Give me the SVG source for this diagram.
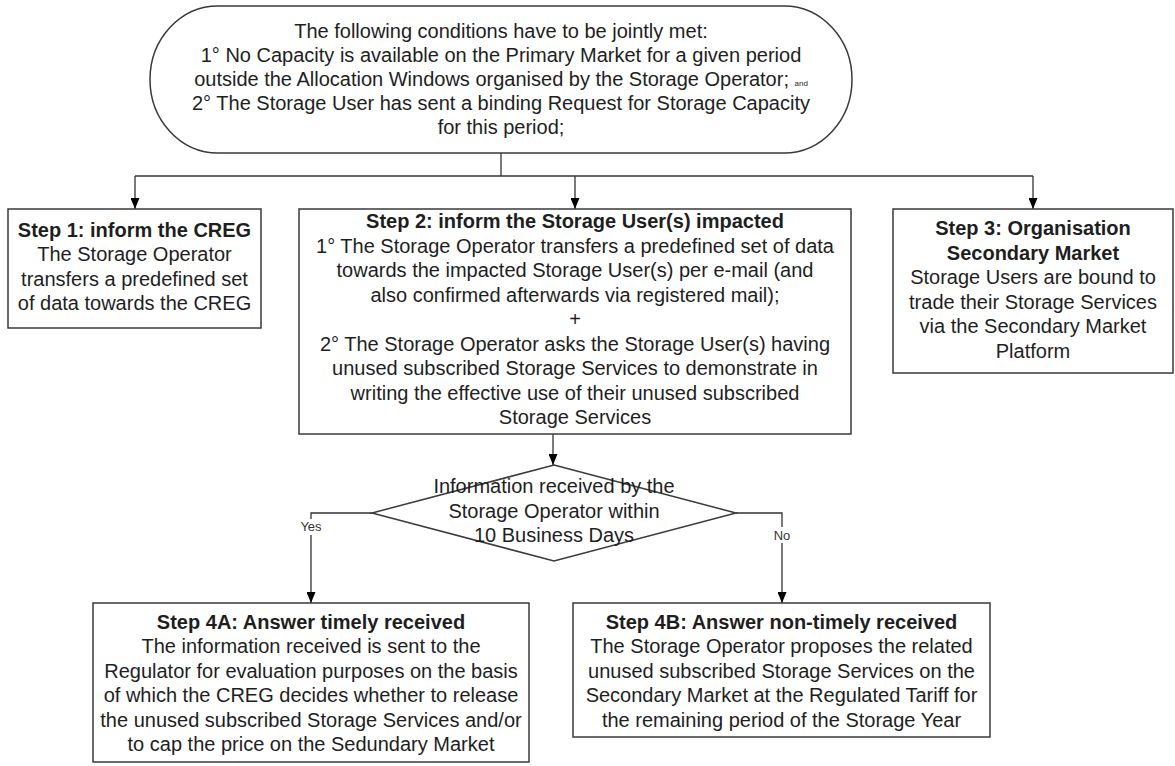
<svg xmlns="http://www.w3.org/2000/svg" width="1175" height="766" viewBox="0 0 1175 766">
<style>
.box{fill:#fff;stroke:#3a3a3a;stroke-width:1.5}
.ln{fill:none;stroke:#333;stroke-width:1.3}
text{font-family:"Liberation Sans",Arial,sans-serif;font-size:20px;fill:#1e1e1e;text-anchor:middle}
.b{font-weight:bold}
.lbl{font-size:13px;fill:#333}
.sm{font-size:8px}
</style>
<defs>
<marker id="ah" viewBox="0 0 11 9" refX="11" refY="4.5" markerWidth="11" markerHeight="9" orient="auto" markerUnits="userSpaceOnUse">
<path d="M0,0 L11,4.5 L0,9 z" fill="#000"/>
</marker>
</defs>
<rect width="1175" height="766" fill="#fff"/>
<g id="connectors">
<path class="ln" d="M501,153 V176"/>
<path class="ln" d="M135,176 H1033"/>
<path class="ln" d="M135,176 V209" marker-end="url(#ah)"/>
<path class="ln" d="M575,176 V209" marker-end="url(#ah)"/>
<path class="ln" d="M1033,176 V209" marker-end="url(#ah)"/>
<path class="ln" d="M575,434 V432 H553 V465" marker-end="url(#ah)"/>
<path class="ln" d="M372,513 H311 V603" marker-end="url(#ah)"/>
<path class="ln" d="M736,513 H782 V603" marker-end="url(#ah)"/>
<rect x="298" y="519" width="26" height="16" fill="#fff"/>
<text class="lbl" x="311" y="531">Yes</text>
<rect x="771" y="527" width="22" height="16" fill="#fff"/>
<text class="lbl" x="782" y="540">No</text>
</g>
<g id="start">
<path class="box" d="M218,6 H784 A68,73.5 0 0 1 784,153 H218 A68,73.5 0 0 1 218,6 Z"/>
<text x="501" y="38">The following conditions have to be jointly met:</text>
<text x="501" y="62">1° No Capacity is available on the Primary Market for a given period</text>
<text x="501" y="86">outside the Allocation Windows organised by the Storage Operator; <tspan class="sm">and</tspan></text>
<text x="501" y="110">2° The Storage User has sent a binding Request for Storage Capacity</text>
<text x="501" y="134">for this period;</text>
</g>
<g id="step1">
<rect class="box" x="8" y="209" width="253" height="119"/>
<text class="b" x="134.5" y="237">Step 1: inform the CREG</text>
<text x="134.5" y="261.3">The Storage Operator</text>
<text x="134.5" y="285.6">transfers a predefined set</text>
<text x="134.5" y="310">of data towards the CREG</text>
</g>
<g id="step2">
<rect class="box" x="299" y="209" width="552" height="225"/>
<text class="b" x="575" y="228">Step 2: inform the Storage User(s) impacted</text>
<text x="575" y="252.5">1° The Storage Operator transfers a predefined set of data</text>
<text x="575" y="277">towards the impacted Storage User(s) per e-mail (and</text>
<text x="575" y="301.5">also confirmed afterwards via registered mail);</text>
<text x="575" y="326">+</text>
<text x="575" y="350.5">2° The Storage Operator asks the Storage User(s) having</text>
<text x="575" y="375">unused subscribed Storage Services to demonstrate in</text>
<text x="575" y="399.5">writing the effective use of their unused subscribed</text>
<text x="575" y="424">Storage Services</text>
</g>
<g id="step3">
<rect class="box" x="893" y="209" width="280" height="164"/>
<text class="b" x="1033" y="235">Step 3: Organisation</text>
<text class="b" x="1033" y="259.5">Secondary Market</text>
<text x="1033" y="284">Storage Users are bound to</text>
<text x="1033" y="308.5">trade their Storage Services</text>
<text x="1033" y="333">via the Secondary Market</text>
<text x="1033" y="357.5">Platform</text>
</g>
<g id="decision">
<polygon class="box" points="554,465 736,513 554,561 372,513" style="fill:none"/>
<text x="554" y="493">Information received by the</text>
<text x="554" y="518">Storage Operator within</text>
<text x="554" y="542">10 Business Days</text>
</g>
<g id="step4a">
<rect class="box" x="93" y="603" width="436" height="159"/>
<text class="b" x="311" y="628.5">Step 4A: Answer timely received</text>
<text x="311" y="653">The information received is sent to the</text>
<text x="311" y="677.5">Regulator for evaluation purposes on the basis</text>
<text x="311" y="702">of which the CREG decides whether to release</text>
<text x="311" y="726.5">the unused subscribed Storage Services and/or</text>
<text x="311" y="751">to cap the price on the Sedundary Market</text>
</g>
<g id="step4b">
<rect class="box" x="573" y="603" width="417" height="134"/>
<text class="b" x="781.5" y="628.5">Step 4B: Answer non-timely received</text>
<text x="781.5" y="653">The Storage Operator proposes the related</text>
<text x="781.5" y="677.5">unused subscribed Storage Services on the</text>
<text x="781.5" y="702">Secondary Market at the Regulated Tariff for</text>
<text x="781.5" y="726.5">the remaining period of the Storage Year</text>
</g>
</svg>
